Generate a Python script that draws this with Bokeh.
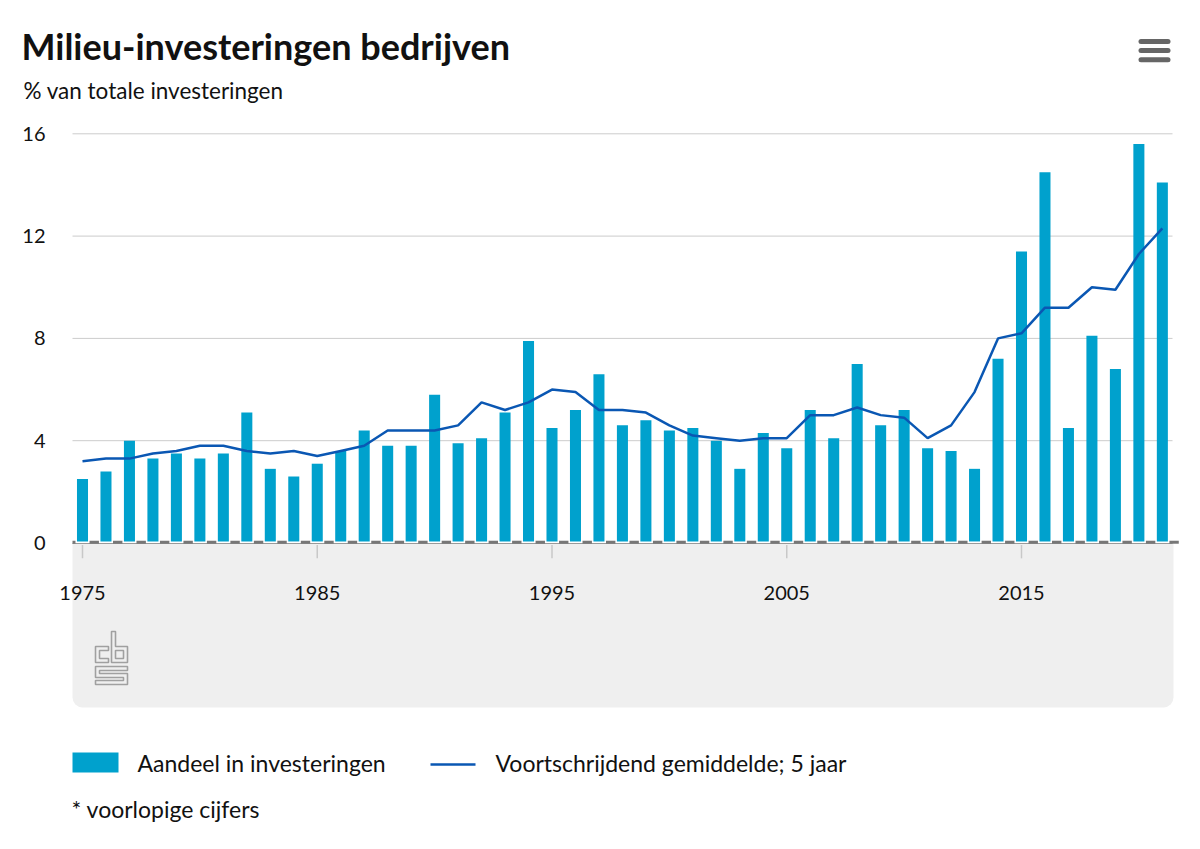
from bokeh.plotting import figure
from bokeh.layouts import column
from bokeh.models import Range1d, BoxAnnotation
from bokeh.core.properties import value
from bokeh.embed import file_html
from bokeh.resources import INLINE

# ---- data ----
years = list(range(1975, 2022))
share = [2.5, 2.8, 4.0, 3.3, 3.5, 3.3, 3.5, 5.1, 2.9, 2.6,
         3.1, 3.6, 4.4, 3.8, 3.8, 5.8, 3.9, 4.1, 5.1, 7.9,
         4.5, 5.2, 6.6, 4.6, 4.8, 4.4, 4.5, 4.0, 2.9, 4.3,
         3.7, 5.2, 4.1, 7.0, 4.6, 5.2, 3.7, 3.6, 2.9, 7.2,
         11.4, 14.5, 4.5, 8.1, 6.8, 15.6, 14.1]
avg5 = [3.2, 3.3, 3.3, 3.5, 3.6, 3.8, 3.8, 3.6, 3.5, 3.6,
        3.4, 3.6, 3.8, 4.4, 4.4, 4.4, 4.6, 5.5, 5.2, 5.5,
        6.0, 5.9, 5.2, 5.2, 5.1, 4.6, 4.2, 4.1, 4.0, 4.1,
        4.1, 5.0, 5.0, 5.3, 5.0, 4.9, 4.1, 4.6, 5.9, 8.0,
        8.2, 9.2, 9.2, 10.0, 9.9, 11.3, 12.3]
x_ticks = [1975, 1985, 1995, 2005, 2015]
x_tick_labels = ["1975", "1985", "1995", "2005", "2015"]
y_ticks = [0, 4, 8, 12, 16]
y_tick_labels = ["0", "4", "8", "12", "16"]

title_text = "Milieu-investeringen bedrijven"
subtitle_text = "% van totale investeringen"
legend_bar = "Aandeel in investeringen"
legend_line = "Voortschrijdend gemiddelde; 5 jaar"
footnote = "* voorlopige cijfers"

FONT = "Lato"
TXT = "#111111"
BAR_COLOR = "#00a1cd"
LINE_COLOR = "#0a57b3"
W = 1184


def blank(fig):
    fig.axis.visible = False
    fig.grid.visible = False
    fig.outline_line_color = None
    fig.background_fill_color = "white"
    fig.border_fill_color = "white"


def make_fig(h, xr, yr):
    f = figure(width=W, height=h, output_backend="svg", toolbar_location=None,
               x_range=xr, y_range=yr, min_border=0, min_border_left=0,
               min_border_right=0, min_border_top=0, min_border_bottom=0)
    blank(f)
    return f


# ---------------- header (pixel coordinates) ----------------
HH = 120
hdr = make_fig(HH, Range1d(0, W), Range1d(HH, 0))
hdr.text(x=[21], y=[45], text=[title_text], text_font=value(FONT),
         text_font_style="bold", text_font_size="36px", text_color=TXT,
         text_align="left", text_baseline="middle")
hdr.text(x=[23], y=[90], text=[subtitle_text], text_font=value(FONT),
         text_font_size="22.5px", text_color=TXT,
         text_align="left", text_baseline="middle")
hdr.segment(x0=[1140.5] * 3, x1=[1167.5] * 3, y0=[41, 50, 59.3], y1=[41, 50, 59.3],
            line_color="#666666", line_width=5, line_cap="round")

# ---------------- main chart (page y 120..715) ----------------
MH = 595
PX_YEAR = 23.475
PX_UNIT = 25.575
ZERO_Y = 542.5 - HH          # pixel row of value 0 inside this figure


def X(px):
    return 1975 + (px - 82) / PX_YEAR


def Y(py):
    return (542.5 - py) / PX_UNIT


p = make_fig(MH, Range1d(X(0), X(W)), Range1d(Y(HH + MH), Y(HH)))

panel_left, panel_right = X(72), X(1173)

# grey panel under the axis
p.add_layout(BoxAnnotation(top=0, bottom=Y(707), left=panel_left, right=panel_right,
                           fill_color="#efefef", fill_alpha=1, line_color=None,
                           level="underlay", border_radius=(0, 0, 10, 10)))

# horizontal grid lines + y tick labels
gy = [t for t in y_ticks if t > 0]
p.segment(x0=[panel_left] * len(gy), x1=[X(1172)] * len(gy), y0=gy, y1=gy,
          line_color="#cccccc", line_width=1)
p.text(x=[X(45)] * len(y_ticks), y=y_ticks, text=y_tick_labels,
       text_font=value(FONT), text_font_size="20px", text_color=TXT,
       text_align="right", text_baseline="middle")

# baseline
p.segment(x0=[panel_left], x1=[X(1172)], y0=[-0.02], y1=[-0.02], line_color="#9a9a9a",
          line_width=1)
mids = [y - 0.5 for y in years] + [years[-1] + 0.5]
p.segment(x0=[max(m - 0.2, panel_left) for m in mids], x1=[m + 0.2 for m in mids],
          y0=[0.03] * len(mids), y1=[0.03] * len(mids),
          line_color="#777777", line_width=3)

# bars and line
p.vbar(x=years, top=share, bottom=0.06, width=0.47, fill_color=BAR_COLOR, line_color=None)
p.line(years, avg5, line_color=LINE_COLOR, line_width=2.5)

# x ticks + labels
p.segment(x0=x_ticks, x1=x_ticks, y0=[-0.08] * len(x_ticks), y1=[-0.6] * len(x_ticks),
          line_color="#c8c8c8", line_width=1.5)
p.text(x=x_ticks, y=[Y(592)] * len(x_ticks), text=x_tick_labels,
       text_font=value(FONT), text_font_size="20px", text_color=TXT,
       text_align="center", text_baseline="middle")

# cbs logo (decoration)
logo = [
    [(108, 646), (95, 646), (95, 662), (108, 662), (108, 658), (99, 658), (99, 650), (108, 650)],
    [(111, 631), (115, 631), (115, 646), (127, 646), (127, 662), (111, 662)],
    [(115, 650), (123, 650), (123, 658), (115, 658)],
    [(95, 666), (127, 666), (127, 670), (99, 670), (99, 673), (127, 673), (127, 684),
     (95, 684), (95, 680), (123, 680), (123, 677), (95, 677)],
]
p.patches(xs=[[X(a) for a, b in poly] for poly in logo],
          ys=[[Y(b) for a, b in poly] for poly in logo],
          fill_color=None, line_color="#a0a0a0", line_width=1.6)

# ---------------- footer (pixel coordinates, page y 715..840) ----------------
FH = 125
Y0 = HH + MH
ftr = make_fig(FH, Range1d(0, W), Range1d(Y0 + FH, Y0))
ftr.quad(left=[72], right=[118], top=[752], bottom=[772], fill_color=BAR_COLOR,
         line_color=None)
ftr.text(x=[137], y=[762], text=[legend_bar], text_font=value(FONT),
         text_font_size="23px", text_color=TXT, text_align="left", text_baseline="middle")
ftr.segment(x0=[430], x1=[475], y0=[764], y1=[764], line_color=LINE_COLOR, line_width=2.5)
ftr.text(x=[495], y=[762], text=[legend_line], text_font=value(FONT),
         text_font_size="23px", text_color=TXT, text_align="left", text_baseline="middle")
ftr.text(x=[71], y=[808], text=[footnote], text_font=value(FONT),
         text_font_size="23px", text_color=TXT, text_align="left", text_baseline="middle")

layout = column(hdr, p, ftr, spacing=0)
open("out.html", "w").write(file_html(layout, INLINE))
